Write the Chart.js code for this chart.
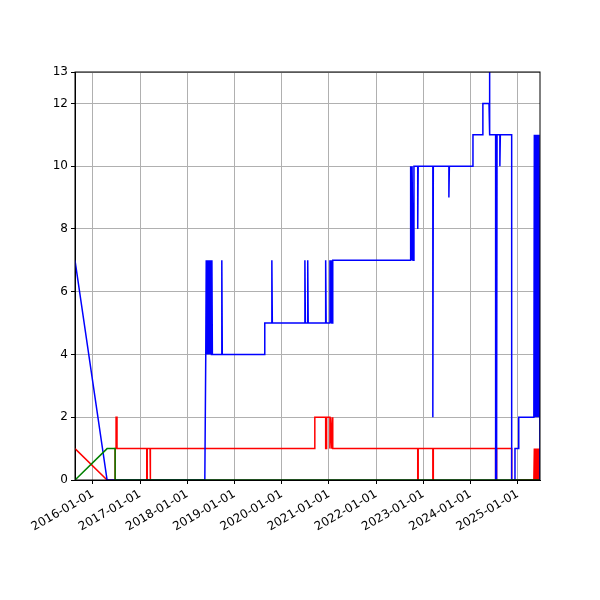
<!DOCTYPE html>
<html>
<head>
<meta charset="utf-8">
<script src="https://cdn.jsdelivr.net/npm/chart.js@4"></script>
<style>
  html, body { margin: 0; padding: 0; background: #fff; }
  #wrap { width: 600px; height: 600px; }
</style>
</head>
<body>
<div id="wrap"><canvas id="c" width="600" height="600"></canvas></div>
<script>
/* ── 数据（x 为小数年份） ── */
const yearTicks = [2016, 2017, 2018, 2019, 2020, 2021, 2022, 2023, 2024, 2025];
const xMin = 2015.62;
const xMax = 2025.47;

const bluePts = [
    [2015.62, 7], [2016.30, 0], [2018.37, 0], [2018.39, 4],
    [2018.40, 7], [2018.41, 4], [2018.42, 7], [2018.43, 4], [2018.44, 7], [2018.45, 4],
    [2018.46, 7], [2018.47, 4], [2018.48, 7], [2018.49, 4], [2018.50, 7], [2018.51, 4],
    [2018.52, 7], [2018.53, 4],
    [2018.73, 4], [2018.73, 7], [2018.74, 4],
    [2019.64, 4], [2019.64, 5],
    [2019.79, 5], [2019.79, 7], [2019.80, 5],
    [2020.49, 5], [2020.49, 7], [2020.50, 5],
    [2020.55, 5], [2020.55, 7], [2020.56, 5],
    [2020.93, 5], [2020.93, 7], [2020.94, 5],
    [2021.02, 5], [2021.02, 7], [2021.03, 5], [2021.05, 7], [2021.06, 5], [2021.08, 5], [2021.08, 7],
    [2022.73, 7], [2022.73, 10], [2022.75, 7], [2022.76, 10], [2022.78, 7], [2022.80, 7], [2022.80, 10],
    [2022.88, 10], [2022.88, 8], [2022.89, 10],
    [2023.20, 10], [2023.20, 2], [2023.21, 10],
    [2023.54, 10], [2023.54, 9], [2023.55, 10],
    [2024.05, 10], [2024.05, 11], [2024.26, 11], [2024.26, 12],
    [2024.39, 12], [2024.39, 13.2], [2024.41, 13.2], [2024.41, 11],
    [2024.53, 11], [2024.53, 0], [2024.54, 11], [2024.55, 0], [2024.56, 11],
    [2024.62, 11], [2024.62, 10], [2024.63, 11],
    [2024.87, 11], [2024.87, 0], [2024.94, 0], [2024.94, 1], [2025.02, 1], [2025.02, 2],
    [2025.34, 2], [2025.35, 11], [2025.36, 2], [2025.37, 11], [2025.38, 2], [2025.39, 11],
    [2025.40, 2], [2025.41, 11], [2025.42, 2], [2025.43, 11], [2025.44, 2], [2025.45, 11],
    [2025.46, 11], [2025.47, 0],
];

const redPts = [
    [2015.62, 1], [2016.30, 0], [2016.47, 0], [2016.47, 1],
    [2016.49, 1], [2016.49, 2], [2016.51, 2], [2016.51, 1],
    [2017.14, 1], [2017.14, 0], [2017.15, 0], [2017.15, 1],
    [2017.21, 1], [2017.21, 0], [2017.22, 0], [2017.22, 1],
    [2020.70, 1], [2020.70, 2],
    [2020.93, 2], [2020.93, 1], [2020.95, 1], [2020.95, 2],
    [2021.02, 2], [2021.02, 1], [2021.04, 2], [2021.06, 1], [2021.08, 2], [2021.08, 1],
    [2022.88, 1], [2022.88, 0], [2022.89, 0], [2022.89, 1],
    [2023.20, 1], [2023.20, 0], [2023.21, 0], [2023.21, 1],
    [2024.53, 1], [2024.53, 0], [2024.55, 0], [2024.55, 1],
    [2024.87, 1], [2024.87, 0],
    [2025.34, 0], [2025.35, 1], [2025.36, 0], [2025.37, 1], [2025.38, 0], [2025.39, 1],
    [2025.40, 0], [2025.41, 1], [2025.42, 0], [2025.43, 1], [2025.44, 0], [2025.45, 1],
    [2025.46, 0], [2025.47, 0],
];

const greenPts = [
    [2015.62, 0], [2016.30, 1], [2016.47, 1], [2016.47, 0], [2025.47, 0],
];

const toXY = pts => pts.map(p => ({ x: p[0], y: p[1] }));

const line = (data, color) => ({
    data: toXY(data),
    borderColor: color,
    backgroundColor: color,
    borderWidth: 1.5,
    pointRadius: 0,
    tension: 0,
    fill: false,
});

new Chart(document.getElementById('c'), {
    type: 'line',
    data: {
        datasets: [
            line(greenPts, 'green'),
            line(bluePts, 'blue'),
            line(redPts, 'red'),
        ],
    },
    options: {
        responsive: false,
        animation: false,
        layout: { padding: { left: 35, right: 60, top: 72, bottom: 0 } },
        scales: {
            x: {
                type: 'linear',
                min: xMin,
                max: xMax,
                afterBuildTicks: axis => { axis.ticks = yearTicks.map(v => ({ value: v })); },
                afterFit: axis => { axis.height = 120; },
                ticks: {
                    minRotation: 30,
                    maxRotation: 30,
                    color: '#000',
                    font: { family: 'DejaVu Sans', size: 12 },
                    callback: v => v + '-01-01',
                },
                grid: { color: '#b0b0b0', tickColor: '#000', tickLength: 4 },
                border: { color: '#000' },
            },
            y: {
                min: 0,
                max: 13,
                afterFit: axis => { axis.width = 40; },
                ticks: {
                    stepSize: 2,
                    color: '#000',
                    font: { family: 'DejaVu Sans', size: 12 },
                },
                grid: { color: '#b0b0b0', tickColor: '#000', tickLength: 4 },
                border: { color: '#000' },
            },
        },
        plugins: {
            legend: { display: false },
            tooltip: { enabled: false },
        },
    },
    plugins: [{
        id: 'frame',
        afterDraw(chart) {
            const { ctx, chartArea: a } = chart;
            ctx.save();
            ctx.strokeStyle = '#000';
            ctx.lineWidth = 1;
            ctx.strokeRect(a.left, a.top, a.right - a.left, a.bottom - a.top);
            ctx.restore();
        },
    }],
});
</script>
</body>
</html>
